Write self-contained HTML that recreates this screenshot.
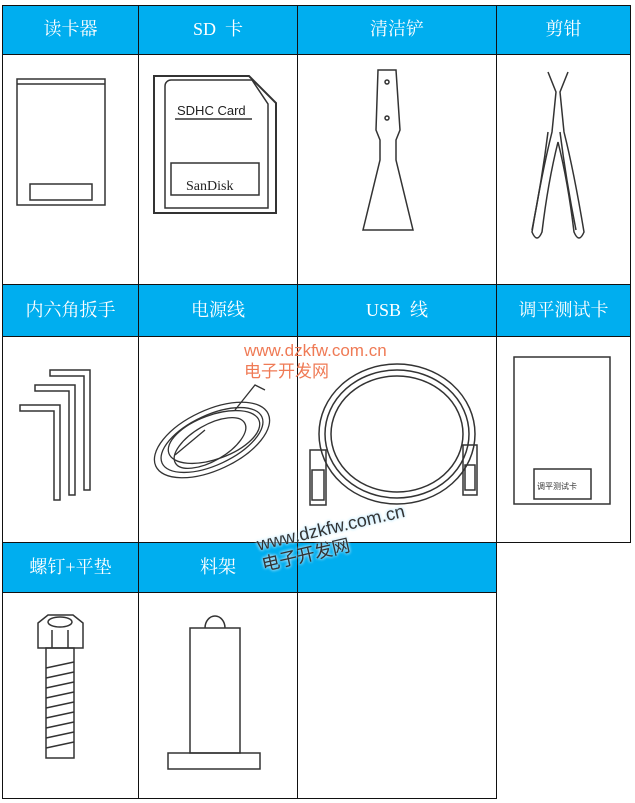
<!DOCTYPE html>
<html><head><meta charset="utf-8"><style>
body{margin:0;width:635px;height:803px;background:#fff;position:relative;overflow:hidden;font-family:"Liberation Serif","Noto Serif CJK SC",serif}
.h{position:absolute;background:#00aeef;color:#fff;font-size:18px;text-align:center;box-sizing:border-box;border:1px solid #111;display:flex;align-items:center;justify-content:center;padding-bottom:4px}
.c{position:absolute;box-sizing:border-box;border:1px solid #111;background:#fff}
svg{position:absolute;left:0;top:0}
.wm{position:absolute;font-family:"Liberation Sans","Noto Sans CJK SC",sans-serif;color:#ef7a55;font-size:17px;line-height:21px}
</style></head><body>
<div class="h" style="left:2px;top:5px;width:137px;height:50px">读卡器</div>
<div class="h" style="left:138px;top:5px;width:160px;height:50px">SD&nbsp;&nbsp;卡</div>
<div class="h" style="left:297px;top:5px;width:200px;height:50px">清洁铲</div>
<div class="h" style="left:496px;top:5px;width:135px;height:50px">剪钳</div>
<div class="c" style="left:2px;top:54px;width:137px;height:231px"></div>
<div class="c" style="left:138px;top:54px;width:160px;height:231px"></div>
<div class="c" style="left:297px;top:54px;width:200px;height:231px"></div>
<div class="c" style="left:496px;top:54px;width:135px;height:231px"></div>
<div class="h" style="left:2px;top:284px;width:137px;height:53px">内六角扳手</div>
<div class="h" style="left:138px;top:284px;width:160px;height:53px">电源线</div>
<div class="h" style="left:297px;top:284px;width:200px;height:53px">USB&nbsp;&nbsp;线</div>
<div class="h" style="left:496px;top:284px;width:135px;height:53px">调平测试卡</div>
<div class="c" style="left:2px;top:336px;width:137px;height:207px"></div>
<div class="c" style="left:138px;top:336px;width:160px;height:207px"></div>
<div class="c" style="left:297px;top:336px;width:200px;height:207px"></div>
<div class="c" style="left:496px;top:336px;width:135px;height:207px"></div>
<div class="h" style="left:2px;top:542px;width:137px;height:51px">螺钉+平垫</div>
<div class="h" style="left:138px;top:542px;width:160px;height:51px">料架</div>
<div class="h" style="left:297px;top:542px;width:200px;height:51px"></div>
<div class="c" style="left:2px;top:592px;width:137px;height:207px"></div>
<div class="c" style="left:138px;top:592px;width:160px;height:207px"></div>
<div class="c" style="left:297px;top:592px;width:200px;height:207px"></div>

<svg width="635" height="803" fill="none" stroke="#333" stroke-width="1.5">
<rect x="17" y="79" width="88" height="126"/><line x1="17" y1="84" x2="105" y2="84"/>
<rect x="30" y="184" width="62" height="16"/>
<path d="M154 76 H249 L276 103 V213 H154 Z" stroke-width="2"/>
<path d="M165 86 a6 6 0 0 1 6-6 H252 L268 104 V208 H165 Z"/>
<rect x="171" y="163" width="88" height="32"/>
<text x="177" y="115" font-family="Liberation Sans" font-size="13" fill="#222" stroke="none">SDHC Card</text>
<line x1="175" y1="119" x2="252" y2="119"/>
<text x="186" y="190" font-family="Liberation Serif" font-size="14" fill="#222" stroke="none">SanDisk</text>
<path d="M378 70 h18 l4 60 l-4 10 v20 l17 70 h-50 l17 -70 v-20 l-4 -10 z"/>
<circle cx="387" cy="82" r="2"/><circle cx="387" cy="118" r="2"/>
<path d="M548 72 l8 20 l-4 40 q-10 40 -20 100 q5 12 10 0 q6 -50 16 -90 q10 40 16 90 q5 12 10 0 q-10 -60 -20 -100 l-4 -40 l8 -20"/>
<path d="M532 230 q10 -50 16 -98 M576 230 q-10 -50 -16 -98"/>
<path d="M50 370 h40 v120 h-6 v-114 h-34 z"/>
<path d="M35 385 h40 v110 h-6 v-104 h-34 z"/>
<path d="M20 405 h40 v95 h-6 v-89 h-34 z"/>
<g stroke-width="1.3">
<ellipse cx="212" cy="440" rx="62" ry="30" transform="rotate(-25 212 440)"/>
<ellipse cx="212" cy="440" rx="55" ry="25" transform="rotate(-25 212 440)"/>
<ellipse cx="214" cy="437" rx="48" ry="22" transform="rotate(-20 214 437)"/>
<ellipse cx="210" cy="443" rx="40" ry="18" transform="rotate(-30 210 443)"/>
<path d="M175 455 l30 -25 M235 410 l20 -25 l10 5"/>
</g>
<ellipse cx="397" cy="434" rx="78" ry="70"/>
<ellipse cx="397" cy="434" rx="72" ry="64"/>
<ellipse cx="397" cy="434" rx="66" ry="58"/>
<rect x="310" y="450" width="16" height="55"/><rect x="312" y="470" width="12" height="30"/>
<rect x="463" y="445" width="14" height="50"/><rect x="465" y="465" width="10" height="25"/>
<rect x="514" y="357" width="96" height="147"/>
<rect x="534" y="469" width="57" height="30"/>
<text x="537" y="489" font-family="Noto Sans CJK SC" font-size="8" fill="#333" stroke="none">调平测试卡</text>
<path d="M38 623 l10 -8 h25 l10 8 v25 h-45 z"/>
<ellipse cx="60" cy="622" rx="12" ry="5"/>
<line x1="52" y1="630" x2="52" y2="648"/><line x1="68" y1="630" x2="68" y2="648"/>
<rect x="46" y="648" width="28" height="110"/>
<path d="M46 668 l28 -6 M46 678 l28 -6 M46 688 l28 -6 M46 698 l28 -6 M46 708 l28 -6 M46 718 l28 -6 M46 728 l28 -6 M46 738 l28 -6 M46 748 l28 -6"/>
<path d="M205 628 a10 12 0 0 1 20 0"/>
<rect x="190" y="628" width="50" height="125"/>
<rect x="168" y="753" width="92" height="16"/>
</svg>
<div class="wm" style="left:244px;top:340px">www.dzkfw.com.cn<br>电子开发网</div>
<div class="wm" style="left:255px;top:535px;color:#333;font-size:18px;transform:rotate(-13deg);transform-origin:0 0;text-shadow:0 0 3px #bfe9ff,0 0 3px #bfe9ff">www.dzkfw.com.cn<br>电子开发网</div>
</body></html>
